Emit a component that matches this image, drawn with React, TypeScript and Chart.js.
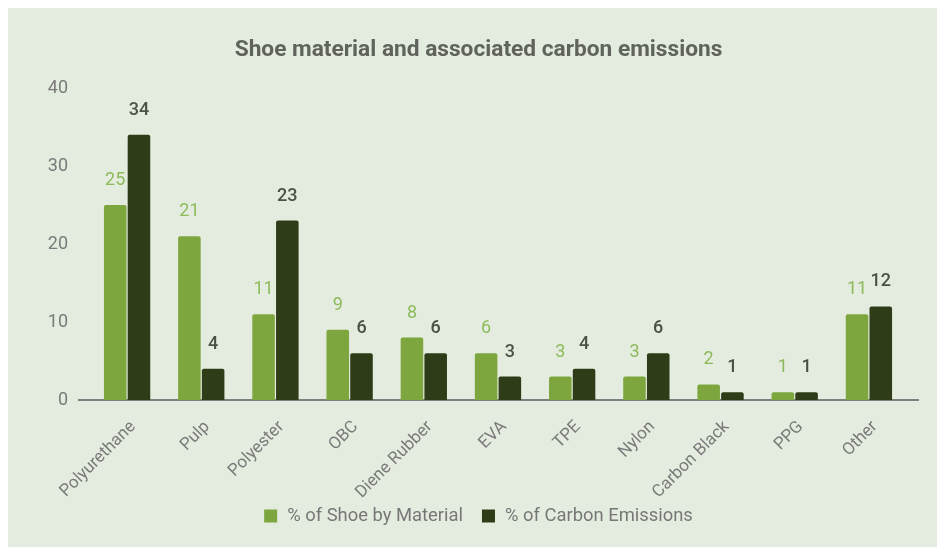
import React, { useEffect, useRef } from "react";
import { Chart, registerables } from "chart.js";

Chart.register(...registerables);

const chartTitle = "Shoe material and associated carbon emissions";
const categories = [
  "Polyurethane",
  "Pulp",
  "Polyester",
  "OBC",
  "Diene Rubber",
  "EVA",
  "TPE",
  "Nylon",
  "Carbon Black",
  "PPG",
  "Other",
];
const seriesNames = ["% of Shoe by Material", "% of Carbon Emissions"];
const shoeByMaterial = [25, 21, 11, 9, 8, 6, 3, 3, 2, 1, 11];
const carbonEmissions = [34, 4, 23, 6, 6, 3, 4, 6, 1, 1, 12];
const yTicks = [0, 10, 20, 30, 40];

const LIGHT = "#7da63f";
const DARK = "#2e3c17";
const PANEL = "#e4ecdf";
const FONT = "Roboto, 'Noto Sans', sans-serif";
const CENTER_X = 470.5;

// Baseline under the bars, a little wider than the plot area.
const baselinePlugin = {
  id: "baseline",
  beforeDatasetsDraw(chart: any) {
    const { ctx, chartArea, scales } = chart;
    const y = scales.y.getPixelForValue(0);
    ctx.save();
    ctx.strokeStyle = "#7f7f7f";
    ctx.lineWidth = 2;
    ctx.beginPath();
    ctx.moveTo(chartArea.left - 12, y);
    ctx.lineTo(chartArea.right + 13, y);
    ctx.stroke();
    ctx.restore();
  },
};

// Value labels above each bar.
const valueLabelPlugin = {
  id: "valueLabels",
  afterDatasetsDraw(chart: any) {
    const { ctx } = chart;
    const styles = [
      { color: "#8dbb5c", font: `400 18px ${FONT}` },
      { color: "#4a5243", font: `500 18px ${FONT}` },
    ];
    chart.data.datasets.forEach((ds: any, di: number) => {
      const meta = chart.getDatasetMeta(di);
      ctx.save();
      ctx.fillStyle = styles[di].color;
      ctx.font = styles[di].font;
      ctx.textAlign = "center";
      ctx.textBaseline = "middle";
      meta.data.forEach((bar: any, i: number) => {
        ctx.fillText(String(ds.data[i]), bar.x, bar.y - 24.5);
      });
      ctx.restore();
    });
  },
};

// Title on top and a centred legend row at the bottom of the panel.
const headerFooterPlugin = {
  id: "headerFooter",
  afterDraw(chart: any) {
    const { ctx } = chart;
    ctx.save();
    ctx.textBaseline = "middle";

    ctx.font = `bold 22.7px ${FONT}`;
    ctx.fillStyle = "#5f635c";
    ctx.textAlign = "center";
    ctx.fillText(chartTitle, CENTER_X, 42);

    const box = 13;
    const boxGap = 10;
    const itemGap = 19;
    const legendY = 508;
    ctx.font = `18.4px ${FONT}`;
    const items = chart.data.datasets.map((ds: any) => ({
      text: ds.label,
      color: ds.backgroundColor,
      w: ctx.measureText(ds.label).width,
    }));
    const total =
      items.reduce((s: number, it: any) => s + box + boxGap + it.w, 0) +
      itemGap * (items.length - 1);
    let x = CENTER_X - total / 2;
    ctx.textAlign = "left";
    items.forEach((it: any) => {
      ctx.fillStyle = it.color;
      ctx.fillRect(x, legendY - box / 2, box, box);
      ctx.fillStyle = "#777777";
      ctx.fillText(it.text, x + box + boxGap, legendY);
      x += box + boxGap + it.w + itemGap;
    });
    ctx.restore();
  },
};

export default function App() {
  const canvasRef = useRef<HTMLCanvasElement | null>(null);

  useEffect(() => {
    document.documentElement.style.overflow = "hidden";
    document.body.style.margin = "0";
    const canvas = canvasRef.current;
    if (!canvas) return;
    const barStyle = {
      borderWidth: 0,
      borderRadius: 2,
      categoryPercentage: 0.64,
      barPercentage: 0.95,
    };
    const chart = new Chart(canvas, {
      type: "bar",
      data: {
        labels: categories,
        datasets: [
          { label: seriesNames[0], data: shoeByMaterial, backgroundColor: LIGHT, ...barStyle },
          { label: seriesNames[1], data: carbonEmissions, backgroundColor: DARK, ...barStyle },
        ],
      },
      options: {
        animation: false,
        responsive: true,
        maintainAspectRatio: false,
        layout: { padding: { left: 20, right: 31, top: 80, bottom: 0 } },
        plugins: {
          title: { display: false },
          legend: { display: false },
          tooltip: { enabled: false },
        },
        scales: {
          x: {
            grid: { display: false, drawTicks: false },
            border: { display: false },
            ticks: {
              color: "#7a7a7a",
              font: { family: FONT, size: 17 },
              minRotation: 45,
              maxRotation: 45,
              padding: 17,
              labelOffset: 6,
            },
            afterFit(scale: any) {
              scale.height = 147;
            },
          },
          y: {
            min: 0,
            max: 40,
            afterBuildTicks(scale: any) {
              scale.ticks = yTicks.map((v) => ({ value: v }));
            },
            grid: { display: false, drawTicks: false },
            border: { display: false },
            ticks: {
              color: "#7a7a7a",
              font: { family: FONT, size: 18 },
              padding: 22,
            },
            afterFit(scale: any) {
              scale.width = 62;
            },
          },
        },
      },
      plugins: [baselinePlugin, valueLabelPlugin, headerFooterPlugin],
    });
    return () => chart.destroy();
  }, []);

  return (
    <div
      style={{
        position: "absolute",
        left: 8,
        top: 8,
        width: 929,
        height: 539,
        background: PANEL,
      }}
    >
      <canvas ref={canvasRef} />
    </div>
  );
}
